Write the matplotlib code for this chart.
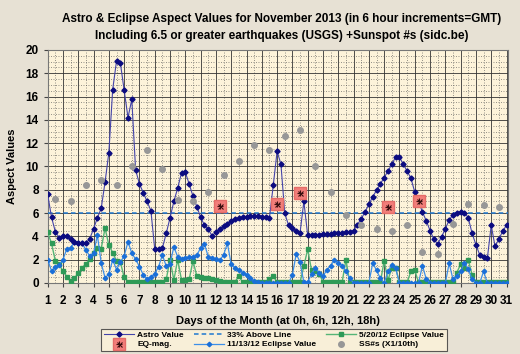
import numpy as np
import matplotlib
matplotlib.use("Agg")
import matplotlib.pyplot as plt
from matplotlib.ticker import MultipleLocator

plt.rcParams['font.family'] = ['Liberation Sans Narrow', 'Liberation Sans', 'DejaVu Sans']
plt.rcParams['font.weight'] = 'bold'

#%% Data (6 hour steps, 1 Nov 0h .. 31 Nov 0h)
hours = np.arange(121) * 6
days = 1 + hours / 24.0

astro = [7.6, 5.65, 4.4, 3.9, 4.0, 4.0, 3.75, 3.55, 3.45, 3.45,
         3.4, 3.8, 4.65, 5.6, 6.4, 8.65, 11.2, 16.6, 19.05, 18.9,
         16.55, 14.2, 15.75, 9.7, 8.5, 7.75, 7.0, 6.2, 2.9, 2.9,
         3.0, 4.25, 5.6, 7.0, 8.15, 9.45, 9.5, 8.5, 7.45, 6.55,
         5.65, 4.95, 4.6, 4.05, 4.35, 4.65, 4.85, 5.1, 5.3, 5.45,
         5.55, 5.65, 5.7, 5.75, 5.75, 5.75, 5.7, 5.65, 5.6, 8.4,
         11.3, 10.2, 6.0, 4.95, 4.75, 4.5, 4.3, 7.0, 4.1, 4.1,
         4.15, 4.15, 4.2, 4.2, 4.2, 4.25, 4.25, 4.3, 4.35, 4.4,
         4.5, 5.0, 5.5, 6.1, 6.75, 7.4, 7.95, 8.5, 9.05, 9.6,
         10.2, 10.8, 10.8, 10.2, 9.6, 9.0, 7.8, 7.0, 6.1, 5.35,
         4.5, 3.75, 3.35, 3.95, 4.65, 5.4, 5.85, 6.05, 6.1, 6.05,
         5.6, 4.25, 3.3, 2.4, 2.25, 2.15, 4.95, 3.15, 3.75, 4.45,
         4.95]

ecl_1113 = [2.0, 1.05, 1.35, 1.55, 2.0, 2.95, 3.0, 3.55, 3.45, 3.4,
            2.85, 2.3, 2.55, 4.1, 1.7, 0.45, 0.75, 2.0, 1.15, 1.8,
            2.3, 3.55, 2.55, 2.05, 1.4, 0.7, 0.3, 0.5, 0.8, 1.4,
            2.4, 1.45, 1.65, 3.1, 2.25, 2.05, 2.15, 2.2, 2.25, 2.4,
            3.0, 3.35, 2.25, 2.15, 2.05, 1.95, 2.4, 3.4, 1.6, 1.3,
            1.1, 0.9, 0.7, 0.4, 0.15, 0.05, 0, 0, 0, 0,
            0, 0, 0, 0, 0.7, 2.5, 1.8, 0.05, 0.05, 0.8,
            1.25, 0.9, 0.6, 1.1, 1.5, 1.95, 1.75, 1.5, 1.0, 0.4,
            0, 0, 0, 0, 0, 1.7, 1.1, 0.4, 0, 1.0,
            1.55, 1.25, 0, 0, 0, 0, 0, 0, 1.5, 0.35,
            0, 0, 0, 0, 0, 1.7, 0.3, 0.6, 1.0, 1.75,
            1.2, 0.3, 0, 0, 1.0, 0, 0, 0, 0, 0,
            0]

ecl_0520 = [4.35, 3.4, 1.9, 1.6, 1.0, 0.55, 0.15, 0.4, 0.85, 1.3,
            1.65, 2.05, 2.55, 3.0, 2.95, 4.7, 3.25, 2.6, 1.9, 1.8,
            0.5, 0.1, 0.05, 0.05, 0.05, 0.05, 0.05, 0.05, 0.05, 0.05,
            0.05, 0.3, 2.0, 0.25, 2.0, 0.25, 0.25, 0.3, 1.9, 0.6,
            0.5, 0.45, 0.4, 0.35, 0.25, 0.15, 0.05, 0.05, 0.05, 0.1,
            0.6, 0.05, 0.05, 0.05, 0.05, 0.05, 0.05, 0.05, 0.35, 0.6,
            0.05, 0.05, 0.05, 0.05, 0.05, 0.05, 0.05, 1.45, 2.9, 1.1,
            1.0, 0.8, 0.1, 0.05, 0.05, 0.05, 0.05, 0.05, 2.0, 0.05,
            0.05, 0.05, 0.05, 0.05, 0.05, 0.05, 0.05, 0.05, 1.9, 0.25,
            1.3, 1.3, 0.05, 0.05, 0.05, 1.0, 1.1, 0.05, 0.05, 0.05,
            0.05, 0.05, 0.05, 0.05, 0.05, 0.05, 0.05, 0.9, 1.6, 1.3,
            2.0, 0.7, 0.05, 0.05, 0.05, 0.05, 0.05, 0.05, 0.05, 0.05,
            0.05]

above_line = 6.0

eq_days = [12.25, 16.0, 17.5, 23.25, 25.25]
eq_mag = [6.6, 6.8, 7.7, 6.5, 7.0]

ss_days = np.arange(1.5, 31, 1.0)
ss_vals = [7.2, 7.0, 8.45, 8.8, 8.4, 10.0, 11.4, 9.8, 7.15, 7.0,
           7.8, 9.25, 10.5, 11.85, 11.4, 12.6, 13.15, 10.05, 7.8, 5.8,
           4.95, 4.6, 4.5, 4.95, 2.7, 2.5, 5.1, 6.8, 6.7, 6.5]

#%% Plotting
fig = plt.figure(figsize=(5.2, 3.54), dpi=100, facecolor="#E7E1D4")
ax = fig.add_axes([0.0917, 0.2006, 0.8853, 0.6582])
ax.set_facecolor("#FDF3DA")

ax.xaxis.set_major_locator(MultipleLocator(1))
ax.xaxis.set_minor_locator(MultipleLocator(0.5))
ax.yaxis.set_major_locator(MultipleLocator(2))
ax.yaxis.set_minor_locator(MultipleLocator(0.5))
ax.grid(which="major", color="#333333", lw=0.6)
ax.grid(which="minor", color="#555555", lw=0.45, ls=(0, (1.5, 2.5)))
ax.set_axisbelow(True)

ax.plot(days, ecl_0520, color="#55B577", lw=1.0, marker="s", ms=3,
        mfc="#2E9A57", mec="#2E9A57", label="5/20/12 Eclipse Value", zorder=3)
ax.plot(days, ecl_1113, color="#3D8FE8", lw=0.9, marker="D", ms=2.3,
        mfc="#1A6FD8", mec="#1A6FD8", label="11/13/12 Eclipse Value", zorder=4)
ax.axhline(above_line, color="#1F78D0", lw=1.1, ls=(0, (3, 2)),
           label="33% Above Line", zorder=4)
ax.plot(days, astro, color="#4444AA", lw=0.8, marker="D", ms=2.6,
        mfc="#0B0B80", mec="#0B0B80", label="Astro Value", zorder=5)
ax.plot(ss_days, ss_vals, ls="none", marker="o", ms=4, color="#979797",
        label="SS#s (X1/10th)", zorder=5)
sq, = ax.plot(eq_days, eq_mag, ls="none", marker="s", ms=8.5,
              mfc="#F27E7A", mec="#E46C68", zorder=6)
st1, = ax.plot(eq_days, eq_mag, ls="none", marker="x", ms=3.6,
               mec="#3a1010", mew=0.8, zorder=7)
st2, = ax.plot(eq_days, eq_mag, ls="none", marker="+", ms=4.4,
               mec="#3a1010", mew=0.8, zorder=7)

ax.set_xlim(1, 31.1)
ax.set_ylim(0, 20)
ax.set_xticks(range(1, 32))
ax.tick_params(axis="both", which="major", labelsize=8.5, length=3, color="#444")
ax.tick_params(axis="both", which="minor", length=0)
ax.tick_params(axis="x", pad=6)
for s in ax.spines.values():
    s.set_color("#777777")

ax.set_ylabel("Aspect Values", fontsize=8, fontweight="bold", labelpad=6)
ax.set_xlabel("Days of the Month (at 0h, 6h, 12h, 18h)", fontsize=8,
              fontweight="bold", labelpad=6)
fig.text(0.5425, 0.945, "Astro & Eclipse Aspect Values for November 2013 (in 6 hour increments=GMT)",
         ha="center", va="center", fontsize=8.5, fontweight="bold")
fig.text(0.5425, 0.898, "Including 6.5 or greater earthquakes (USGS) +Sunspot #s (sidc.be)",
         ha="center", va="center", fontsize=8.5, fontweight="bold")

h = {l: hh for hh, l in zip(*ax.get_legend_handles_labels())}
handles = [h["Astro Value"], (sq, st1, st2), h["33% Above Line"],
           h["11/13/12 Eclipse Value"], h["5/20/12 Eclipse Value"], h["SS#s (X1/10th)"]]
labels = ["Astro Value", "EQ-mag.", "33% Above Line", "11/13/12 Eclipse Value",
          "5/20/12 Eclipse Value", "SS#s (X1/10th)"]
leg = fig.legend(handles, labels, ncol=3, loc="center", bbox_to_anchor=(0.527, 0.0395),
                 fontsize=6, frameon=True, fancybox=False, handlelength=3.6,
                 columnspacing=1.2, labelspacing=0.15, borderpad=0.3,
                 handletextpad=0.4)
leg.get_frame().set_facecolor("#FDF3DA")
leg.get_frame().set_edgecolor("#333333")
leg.get_frame().set_linewidth(0.8)

fig.savefig("out.png", dpi=100, facecolor=fig.get_facecolor())
